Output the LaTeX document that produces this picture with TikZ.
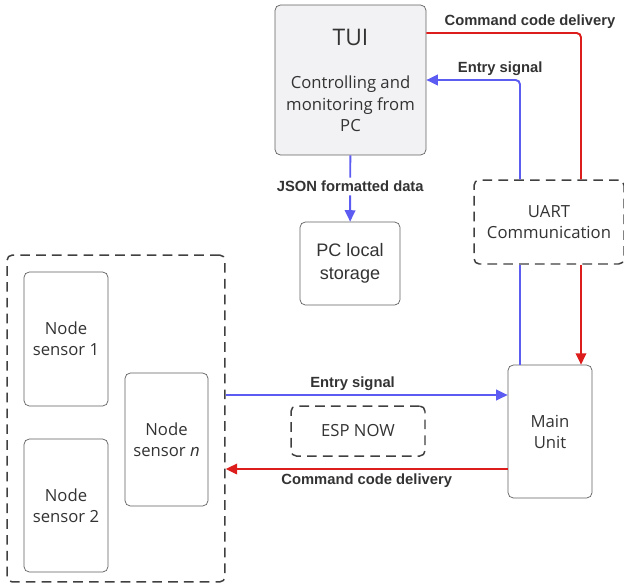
\documentclass[tikz,border=0pt]{standalone}
\usepackage{fontspec}
\setmainfont{Open Sans}
\newfontfamily\lblfont{Liberation Sans}
\usetikzlibrary{arrows.meta}
\definecolor{boxline}{HTML}{5F5F5F}
\definecolor{txtgray}{HTML}{333333}
\definecolor{tuifill}{HTML}{F2F2F4}
\definecolor{sigblue}{HTML}{5C5CF2}
\definecolor{cmdred}{HTML}{DD1C1C}

\begin{document}
\begin{tikzpicture}[x=0.02cm, y=-0.02cm,
    box/.style={rectangle, draw=boxline, rounded corners=3pt, align=center, text=txtgray, font=\fontsize{9.5}{12}\selectfont, inner sep=0pt},
    dashbox/.style={box, draw=black!75, dash pattern=on 5.5pt off 3.5pt, line width=0.85pt, fill=white},
    blueline/.style={draw=sigblue, line width=1.1pt, rounded corners=2.5pt},
    redline/.style={draw=cmdred, line width=1.1pt, rounded corners=2.5pt},
    tip/.style={-{Triangle[length=6.5pt, width=6pt]}},
    lbl/.style={font=\lblfont\bfseries\fontsize{8.4}{10}\selectfont, text=txtgray, inner sep=2pt}]
        \useasboundingbox (0,0) rectangle (624,585);

        % sensor field
        \node[dashbox, minimum width=4.36cm, minimum height=6.54cm] (field) at (116,418.5) {};
        \node[box, minimum width=1.68cm, minimum height=2.68cm] (ns1) at (66,339) {Node\\sensor 1};
        \node[box, minimum width=1.68cm, minimum height=2.66cm] (ns2) at (66,505.5) {Node\\sensor 2};
        \node[box, minimum width=1.66cm, minimum height=2.66cm] (nsn) at (166.5,439.5) {Node\\sensor \textit{n}};
        \node[dashbox, minimum width=2.68cm, minimum height=1cm] (esp) at (358,431) {ESP NOW};

        % PC side
        \node[box, minimum width=1.68cm, minimum height=2.66cm] (main) at (550,431.5) {Main\\Unit};
        \node[dashbox, minimum width=3cm, minimum height=1.68cm] (uart) at (549,222) {UART\\Communication};
        \node[box, fill=tuifill, minimum width=3.02cm, minimum height=3cm] (tui) at (350.5,80) {{\fontsize{13}{16}\selectfont TUI}\\[13pt]Controlling and\\monitoring from\\PC};
        \node[box, font=\lblfont\fontsize{10.3}{13}\selectfont, minimum width=2cm, minimum height=1.66cm] (store) at (350,263.5) {PC local\\storage};

        \coordinate (redx) at (581,0);
        \coordinate (bluex) at (520,0);

        \draw[redline] (tui.east |- 0,33) -| node[lbl, above, pos=0.335] {Command code delivery} (uart.north -| redx);
        \draw[redline, tip] (uart.south -| redx) -- (main.north -| redx);
        \draw[blueline] (main.north -| bluex) -- (uart.south -| bluex);
        \draw[blueline, tip] (uart.north -| bluex) |- node[lbl, above, pos=0.606] {Entry signal} (tui.east |- 0,80);
        \draw[blueline, tip] (tui) -- node[lbl, fill=white, pos=0.47] {JSON formatted data} (store);

        \draw[blueline, tip] (field.east |- 0,395) -- node[lbl, above, pos=0.45] {Entry signal} (main.west |- 0,395);
        \draw[redline, tip] (main.west |- 0,469) -- node[lbl, below, pos=0.5] {Command code delivery} (field.east |- 0,469);
    \end{tikzpicture}
\end{document}
